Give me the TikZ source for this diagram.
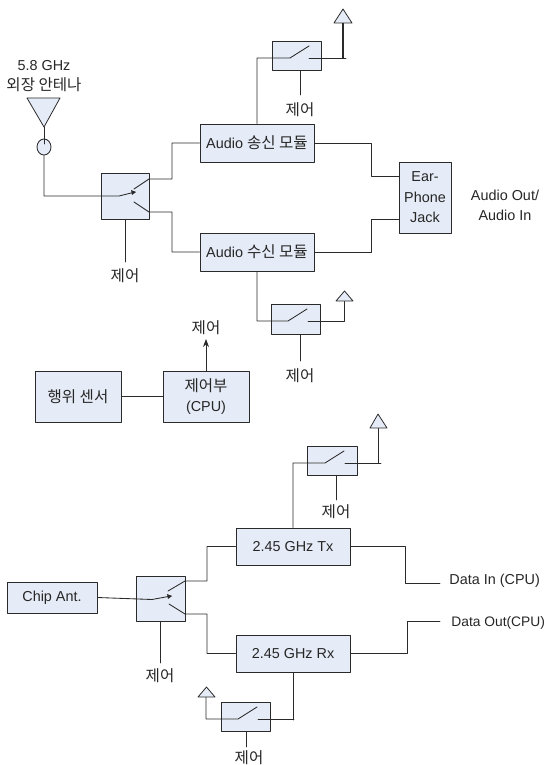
\documentclass[tikz,border=0pt]{standalone}
\usepackage{fontspec}
\setmainfont{Liberation Sans}
\newfontfamily\kr{Noto Sans CJK KR}[Scale=1.08]
\usetikzlibrary{shapes.geometric,arrows.meta}
\definecolor{blockfill}{HTML}{E6ECF7}
\definecolor{wire}{HTML}{2A2A2A}
\tikzset{
  blockbox/.style={draw=wire,fill=blockfill,line width=0.9pt,inner sep=0pt,align=center,text=black!85,font=\fontsize{14.4}{20.5}\selectfont},
  tag/.style={inner sep=0pt,align=center,text=black!85,font=\fontsize{14.4}{20}\selectfont},
  aerial/.style={draw=wire,fill=blockfill,line width=0.8pt},
}
\begin{document}
\begin{tikzpicture}[x=1pt,y=-1pt,line cap=round,line join=round,>={Stealth[length=8pt,width=6pt]},line width=0.85pt,draw=wire]
  \useasboundingbox (0,0) rectangle (547,765);
  % audio part
  \node[tag] (antlabel) at (44,76) {5.8 GHz\\{\kr 외장 안테나}};
  \node[blockbox,minimum width=48pt,minimum height=46pt] (swa) at (125,196) {};
  \node[blockbox,minimum width=114pt,minimum height=38pt] (audtx) at (257,143) {Audio {\kr 송신 모듈}};
  \node[blockbox,minimum width=114pt,minimum height=38pt] (audrx) at (257,252) {Audio {\kr 수신 모듈}};
  \node[blockbox,minimum width=52pt,minimum height=71pt] (jack) at (425,197.5) {Ear-\\Phone\\Jack};
  \node[tag] (audio) at (505,205) {Audio Out/\\Audio In};
  \node[blockbox,minimum width=49pt,minimum height=29pt] (swb) at (296.5,55.5) {};
  \node[blockbox,minimum width=49pt,minimum height=30pt] (swc) at (295.5,319) {};
  \node[tag] (ctla) at (125,276) {\kr 제어};
  \node[tag] (ctlb) at (300,110) {\kr 제어};
  \node[tag] (ctlc) at (300,376) {\kr 제어};
  \draw[aerial] (27,98) -- (60,98) -- (44,127) -- cycle;
  \node[draw=wire,fill=blockfill,ellipse,inner sep=0pt,minimum width=14pt,minimum height=16pt] (choke) at (44,147) {};
  \coordinate (anta) at (44,127);
  \coordinate (swain) at (119,196);
  \coordinate (swaarm) at (135,192);
  \coordinate (swaup) at (149,179);
  \coordinate (swadn) at (149,212);
  \draw (anta) -- (44,144);
  \draw (choke.south) -- (44,196) -- (swain) -- (swaarm);
  \fill[wire] (136,192) -- (131,190) -- (132,195) -- cycle;
  \draw (134,189) -- (swaup) -- (172,179) |- (audtx.west);
  \draw (134,202) -- (swadn) -- (172,212) |- (audrx.west);
  \draw (swa.south) -- (125,262);
  \draw (audtx.east) -- (371,143) |- (399,176);
  \draw (audrx.east) -- (371,252) |- (399,219);
  \coordinate (swbin) at (290,58);
  \draw (audtx.north) -- (257,58) -- (swbin) -- (309,46);
  \draw (309,58) -- (346,58);
  \draw[line width=1.2pt] (343,58) -- (343,23);
  \draw[aerial] (334,23) -- (352,23) -- (343,9) -- cycle;
  \draw (swb.south) ++(3.5,0) -- (300,95);
  \coordinate (swcin) at (288,321);
  \draw (audrx.south) -- (257,321) -- (swcin) -- (307,309);
  \draw (308,321) -- (344,321) -- (344,301);
  \draw[aerial] (336,301) -- (353,301) -- (344.5,291) -- cycle;
  \draw (swc.south) ++(4.5,0) -- (300,361);
  % control part
  \node[blockbox,minimum width=86pt,minimum height=51pt] (sensor) at (78,396.5) {\kr 행위 센서};
  \node[blockbox,minimum width=86pt,minimum height=51pt] (cpu) at (206,396.5) {{\kr 제어부}\\(CPU)};
  \node[tag] (ctld) at (206,328) {\kr 제어};
  \draw (sensor) -- (cpu);
  \draw[->] (cpu.north) -- (206,339);
  % data part
  \node[blockbox,minimum width=90pt,minimum height=31pt] (chip) at (52,597.5) {Chip Ant.};
  \node[blockbox,minimum width=49pt,minimum height=45pt] (swd) at (160.5,598.5) {};
  \node[blockbox,minimum width=114pt,minimum height=37pt] (tx) at (293,546.5) {2.45 GHz Tx};
  \node[blockbox,minimum width=114pt,minimum height=37pt] (rx) at (293,653.5) {2.45 GHz Rx};
  \node[blockbox,minimum width=50pt,minimum height=29pt] (swe) at (332,460.5) {};
  \node[blockbox,minimum width=49pt,minimum height=29pt] (swf) at (245.5,716.5) {};
  \node[tag,anchor=west] (datain) at (449,581) {Data In (CPU)};
  \node[tag,anchor=west,font=\fontsize{13.8}{20}\selectfont] (dataout) at (451,623) {Data Out(CPU)};
  \node[tag] (ctle) at (160,676) {\kr 제어};
  \node[tag] (ctlf) at (336,512) {\kr 제어};
  \node[tag] (ctlg) at (249,758) {\kr 제어};
  \coordinate (swdarm) at (171,596);
  \draw (chip.east) -- (152,599.5) -- (swdarm);
  \fill[wire] (172,596) -- (167,594) -- (168,599) -- cycle;
  \draw (168,591) -- (185,581) -- (207,581) |- (tx.west);
  \draw (169,604) -- (185,614) -- (207,614) |- (rx.west);
  \draw (swd.south) ++(-0.5,0) -- (160,663);
  \draw (tx.east) -- (405,546.5) |- (440,583);
  \draw (rx.east) -- (407,653.5) |- (440,621);
  \draw (tx.north) -- (293,463) -- (325,463) -- (344,451);
  \draw (345,463) -- (381,463);
  \draw (378,463) -- (378,428);
  \draw[aerial] (370,428) -- (387,428) -- (378,414) -- cycle;
  \draw (swe.south) ++(4,0) -- (336,500);
  \draw (rx.south) -- (293,720);
  \draw (294,719) -- (258,719);
  \draw (257,707) -- (238,719) -- (206,719) -- (206,697);
  \draw[aerial] (198,697) -- (215,697) -- (206.5,687) -- cycle;
  \draw (swf.south) ++(0.5,0) -- (246,747);
\end{tikzpicture}
\end{document}
